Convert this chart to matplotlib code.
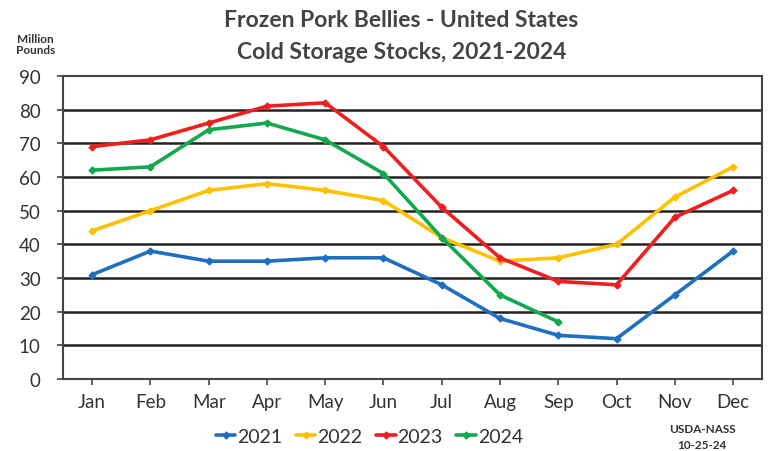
import matplotlib.pyplot as plt

months = ['Jan', 'Feb', 'Mar', 'Apr', 'May', 'Jun', 'Jul', 'Aug', 'Sep', 'Oct', 'Nov', 'Dec']
stocks_2021 = [31, 38, 35, 35, 36, 36, 28, 18, 13, 12, 25, 38]
stocks_2022 = [44, 50, 56, 58, 56, 53, 42, 35, 36, 40, 54, 63]
stocks_2023 = [69, 71, 76, 81, 82, 69, 51, 36, 29, 28, 48, 56]
stocks_2024 = [62, 63, 74, 76, 71, 61, 42, 25, 17]
y_ticks = [0, 10, 20, 30, 40, 50, 60, 70, 80, 90]

plt.rcParams['font.family'] = ['Lato', 'DejaVu Sans']

fig = plt.figure(figsize=(7.76, 4.52), dpi=100)
ax = fig.add_axes([0.0812, 0.159, 0.901, 0.671])

series = [
    ('2021', stocks_2021, '#1F6FC0'),
    ('2022', stocks_2022, '#FFC000'),
    ('2023', stocks_2023, '#F01E1E'),
    ('2024', stocks_2024, '#12A84E'),
]
x = list(range(len(months)))
for name, vals, col in series:
    ax.plot(x[:len(vals)], vals, color=col, lw=2.6, marker='D', ms=3.5,
            solid_capstyle='round', label=name, zorder=3)

ax.set_xlim(-0.5, 11.5)
ax.set_ylim(0, 90)
ax.set_yticks(y_ticks)
ax.set_xticks(x)
ax.set_xticklabels(months)
for v in y_ticks[1:-1]:
    ax.axhline(v, color='#222222', lw=1.8, zorder=1)
for s in ax.spines.values():
    s.set_color('#444444')
    s.set_linewidth(1.5)
ax.tick_params(axis='both', labelsize=13.5, colors='#444444', labelcolor='#333333', length=4, width=1.2)
ax.tick_params(axis='x', pad=6)
ax.tick_params(axis='y', pad=12)

fig.text(0.517, 0.955, 'Frozen Pork Bellies - United States', ha='center', va='center',
         fontsize=16.5, fontweight='bold', color='#444444')
fig.text(0.517, 0.884, 'Cold Storage Stocks, 2021-2024', ha='center', va='center',
         fontsize=16.5, fontweight='bold', color='#444444')
fig.text(0.046, 0.900, 'Million\nPounds', ha='center', va='center', fontsize=8.5,
         fontweight='bold', color='#333333', linespacing=1.0)
fig.text(0.905, 0.032, 'USDA-NASS\n10-25-24', ha='center', va='center', fontsize=8.5,
         fontweight='bold', color='#333333', linespacing=1.5)

fig.legend(loc='center', bbox_to_anchor=(0.476, 0.033), ncol=4, frameon=False,
           fontsize=14, handlelength=1.0, handletextpad=0.1, columnspacing=0.7,
           labelcolor='#333333')

fig.savefig('out.png', dpi=100)
